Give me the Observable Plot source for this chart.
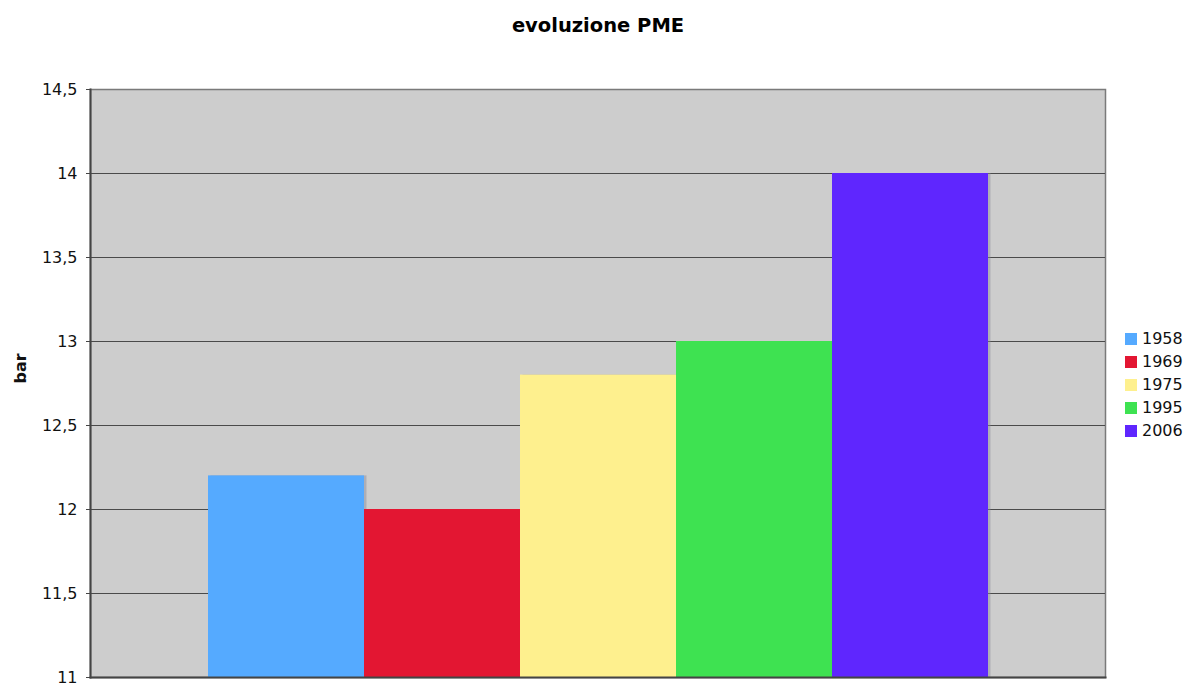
<!DOCTYPE html>
<html>
<head>
<meta charset="utf-8">
<script src="https://cdn.jsdelivr.net/npm/d3@7"></script>
<script src="https://cdn.jsdelivr.net/npm/@observablehq/plot@0.6"></script>
<style>
  html, body { margin: 0; padding: 0; background: #fff; }
  #wrap { position: relative; width: 1199px; height: 686px; font-family: "DejaVu Sans", Verdana, sans-serif; }
  #legend { position: absolute; left: 1125px; top: 327px; font-size: 16px; color: #111; }
  #legend .row { display: flex; align-items: center; height: 23px; }
  #legend .sw { width: 12px; height: 12px; margin-right: 5px; }
</style>
</head>
<body>
<div id="wrap"></div>
<script>
const years = ["1958", "1969", "1975", "1995", "2006"];
const values = [12.2, 12.0, 12.8, 13.0, 14.0];
const colors = ["#55aaff", "#e31632", "#fef08e", "#3ee251", "#5f26fe"];
const yTicks = [11, 11.5, 12, 12.5, 13, 13.5, 14, 14.5];
const titleText = "evoluzione PME";
const yLabel = "bar";

const data = years.map((y, i) => ({year: y, value: values[i], color: colors[i]}));
const fmt = d => String(d).replace(".", ",");

const chart = Plot.plot({
  width: 1199,
  height: 686,
  marginLeft: 90,
  marginRight: 94,
  marginTop: 89,
  marginBottom: 9,
  style: {fontFamily: "'DejaVu Sans', Verdana, sans-serif", fontSize: "16px", color: "#111", background: "#fff"},
  x: {domain: years, paddingInner: 0, paddingOuter: 0.75, axis: null},
  y: {domain: [11, 14.5], axis: null},
  marks: [
    Plot.frame({fill: "#cdcdcd", stroke: "#7a7a7a", strokeWidth: 1.5}),
    Plot.ruleY(yTicks.slice(1, -1), {stroke: "#4a4a4a", strokeWidth: 1.2}),
    // bar shadows
    Plot.rectY(data, {x: "year", y1: 11, y2: "value", fill: "#8a8a9a", fillOpacity: 0.45, dx: 2.5}),
    Plot.rectY(data, {x: "year", y1: 11, y2: "value", fill: "color"}),
    // axis lines
    Plot.frame({anchor: "left", stroke: "#444", strokeWidth: 2}),
    Plot.frame({anchor: "bottom", stroke: "#444", strokeWidth: 2}),
    Plot.axisY(yTicks, {tickFormat: fmt, tickSize: 4, tickPadding: 9, stroke: "#444", fontSize: 16, fill: "#111", label: null}),
    Plot.text([titleText], {frameAnchor: "top", dy: -71, fontWeight: "bold", fontSize: 19.5, fill: "#000"}),
    Plot.text([yLabel], {frameAnchor: "left", dx: -70, rotate: -90, fontWeight: "bold", fontSize: 16, fill: "#111"})
  ]
});

const wrap = document.getElementById("wrap");
wrap.appendChild(chart);

const legend = document.createElement("div");
legend.id = "legend";
years.forEach((y, i) => {
  const row = document.createElement("div");
  row.className = "row";
  const sw = document.createElement("div");
  sw.className = "sw";
  sw.style.background = colors[i];
  const lab = document.createElement("span");
  lab.textContent = y;
  row.appendChild(sw);
  row.appendChild(lab);
  legend.appendChild(row);
});
wrap.appendChild(legend);
</script>
</body>
</html>
